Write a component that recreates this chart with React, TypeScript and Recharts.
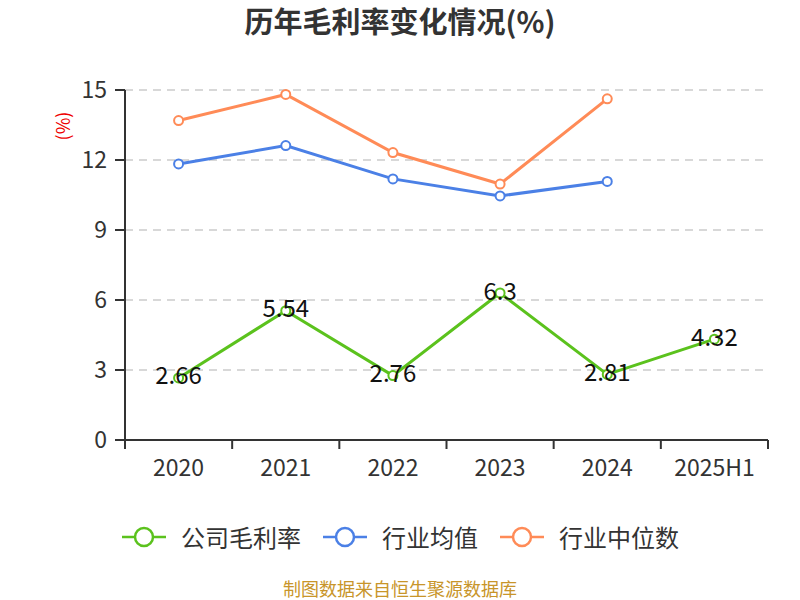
import { LineChart, Line, XAxis, YAxis, CartesianGrid, LabelList } from "recharts"

const years = ["2020", "2021", "2022", "2023", "2024", "2025H1"]
const companyMargin = [2.66, 5.54, 2.76, 6.3, 2.81, 4.32]
const industryMean = [11.83, 12.62, 11.19, 10.46, 11.08, null]
const industryMedian = [13.69, 14.81, 12.32, 10.97, 14.62, null]
const yTicks = [0, 3, 6, 9, 12, 15]

const series = [
  { key: "company", name: "公司毛利率", color: "#5bc21d", values: companyMargin, labels: true },
  { key: "mean", name: "行业均值", color: "#4b80e6", values: industryMean, labels: false },
  { key: "median", name: "行业中位数", color: "#ff8b57", values: industryMedian, labels: false },
]

const data = years.map((year, i) => {
  const row: Record<string, string | number | null> = { year }
  series.forEach((s) => {
    row[s.key] = s.values[i]
  })
  return row
})

const font = "'Noto Sans CJK SC', 'Noto Sans', sans-serif"
const W = 800
const H = 600
const margin = { top: 90, right: 32, left: 0, bottom: 0 }
const yAxisWidth = 125
const bandWidth = (W - yAxisWidth - margin.right) / years.length

// tick marks sit on the band edges, labels in the middle
const XTick = (props: any) => {
  const { x, y, payload, index } = props
  const left = x - bandWidth / 2
  return (
    <g>
      <line x1={left} y1={y} x2={left} y2={y + 9} stroke="#333" strokeWidth={2} />
      {index === years.length - 1 && (
        <line x1={x + bandWidth / 2} y1={y} x2={x + bandWidth / 2} y2={y + 9} stroke="#333" strokeWidth={2} />
      )}
      <text x={x} y={y + 26} textAnchor="middle" dominantBaseline="central" fill="#333" fontSize={23} fontFamily={font}>
        {payload.value}
      </text>
    </g>
  )
}

const PointLabel = (props: any) => {
  const { x, y, value } = props
  if (value == null) return null
  return (
    <text x={x} y={y - 4} textAnchor="middle" dominantBaseline="central" fill="#111" fontSize={24} fontFamily={font}>
      {value}
    </text>
  )
}

export default function App() {
  return (
    <div style={{ position: "absolute", left: 0, top: 0, width: W, height: H, background: "#fff", fontFamily: font, overflow: "hidden" }}>
      <div style={{ position: "absolute", top: 0, left: 0, width: W, textAlign: "center", fontSize: 29, fontWeight: 700, color: "#333", lineHeight: "40px" }}>
        历年毛利率变化情况(%)
      </div>
      <div style={{ position: "absolute", left: 62, top: 126, transform: "translate(-50%, -50%) rotate(-90deg)", color: "#e00", fontSize: 18, lineHeight: "22px", whiteSpace: "nowrap" }}>
        (%)
      </div>
      <LineChart width={W} height={H} data={data} margin={margin}>
        <CartesianGrid vertical={false} stroke="#ccc" strokeWidth={1.5} strokeDasharray="8 6" />
        <XAxis
          dataKey="year"
          scale="band"
          height={160}
          axisLine={{ stroke: "#333", strokeWidth: 2 }}
          tickLine={false}
          tickSize={0}
          tickMargin={0}
          tick={<XTick />}
          interval={0}
        />
        <YAxis
          width={yAxisWidth}
          domain={[0, 15]}
          ticks={yTicks}
          interval={0}
          axisLine={{ stroke: "#333", strokeWidth: 2 }}
          tickLine={{ stroke: "#333", strokeWidth: 2 }}
          tickSize={10}
          tickMargin={8}
          tick={{ fill: "#333", fontSize: 23, fontFamily: font }}
        />
        {series.map((s) => (
          <Line
            key={s.key}
            type="linear"
            dataKey={s.key}
            name={s.name}
            stroke={s.color}
            strokeWidth={3}
            dot={{ r: 4.5, fill: "#fff", stroke: s.color, strokeWidth: 2 }}
            activeDot={false}
            isAnimationActive={false}
          >
            {s.labels && <LabelList dataKey={s.key} content={<PointLabel />} />}
          </Line>
        ))}
      </LineChart>
      <div style={{ position: "absolute", top: 520, left: 0, width: W, display: "flex", justifyContent: "center", gap: 21, alignItems: "center" }}>
        {series.map((s) => (
          <div key={s.key} style={{ display: "flex", alignItems: "center", gap: 14 }}>
            <svg width={46} height={24}>
              <line x1={1} y1={12} x2={45} y2={12} stroke={s.color} strokeWidth={2.5} />
              <circle cx={23} cy={12} r={9} fill="#fff" stroke={s.color} strokeWidth={2.5} />
            </svg>
            <span style={{ fontSize: 24, color: "#333", lineHeight: "34px" }}>{s.name}</span>
          </div>
        ))}
      </div>
      <div style={{ position: "absolute", top: 578, left: 0, width: W, textAlign: "center", fontSize: 18, color: "#c8952a", lineHeight: "20px" }}>
        制图数据来自恒生聚源数据库
      </div>
    </div>
  )
}
